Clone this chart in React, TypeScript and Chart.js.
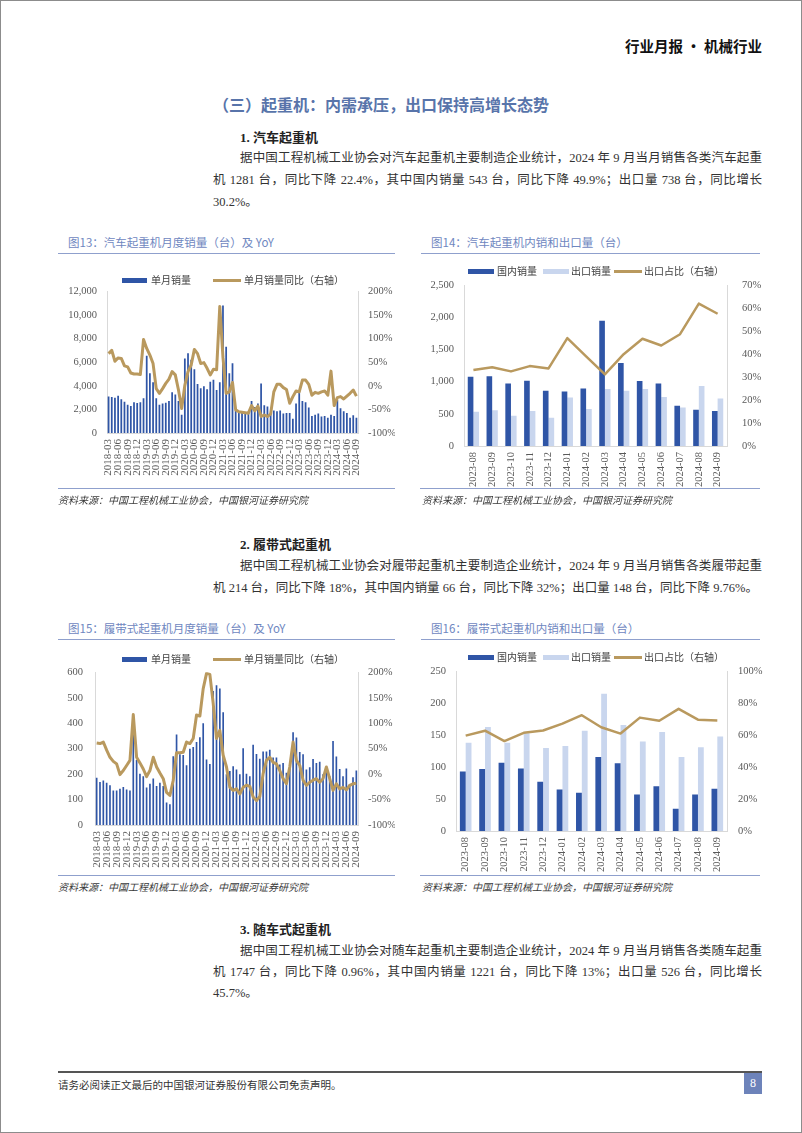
import React, { useEffect, useRef } from "react";
import { Chart, registerables } from "chart.js";

Chart.register(...registerables);

const DARK = "#2F55A6";
const LIGHT = "#C9D6EE";
const GOLD = "#B9995E";
const AXIS = "#D9D9D9";
const TICK = "#595959";
const SERIF = "'Liberation Serif', 'Noto Sans CJK SC', serif";
const BODY = "'Liberation Serif', 'Noto Sans CJK SC', serif";

const monthsLong = [
  "2018-03", "2018-04", "2018-05", "2018-06", "2018-07", "2018-08", "2018-09", "2018-10", "2018-11", "2018-12",
  "2019-01", "2019-02", "2019-03", "2019-04", "2019-05", "2019-06", "2019-07", "2019-08", "2019-09", "2019-10", "2019-11", "2019-12",
  "2020-01", "2020-02", "2020-03", "2020-04", "2020-05", "2020-06", "2020-07", "2020-08", "2020-09", "2020-10", "2020-11", "2020-12",
  "2021-01", "2021-02", "2021-03", "2021-04", "2021-05", "2021-06", "2021-07", "2021-08", "2021-09", "2021-10", "2021-11", "2021-12",
  "2022-01", "2022-02", "2022-03", "2022-04", "2022-05", "2022-06", "2022-07", "2022-08", "2022-09", "2022-10", "2022-11", "2022-12",
  "2023-01", "2023-02", "2023-03", "2023-04", "2023-05", "2023-06", "2023-07", "2023-08", "2023-09", "2023-10", "2023-11", "2023-12",
  "2024-01", "2024-02", "2024-03", "2024-04", "2024-05", "2024-06", "2024-07", "2024-08", "2024-09",
];

const truckSales = [
  3100, 3050, 2980, 3150, 2850, 2650, 2400, 2280, 2600, 2530, 2610, 2950,
  6550, 5050, 4300, 2950, 2400, 2500, 2560, 2720, 3450, 3250, 2700, 1550,
  6300, 6750, 6200, 5400, 4150, 3800, 3950, 3700, 4350, 4500, 3650, 4300,
  10800, 7300, 5050, 5900, 1900, 1850, 1800, 1750, 1700, 2700, 2200, 2500,
  4200, 2350, 2250, 1700, 1900, 1850, 1900, 1650, 1700, 1700, 1200, 2500,
  3600, 2700, 2600, 2150, 1450, 1550, 1650, 1400, 1450, 1300, 1550, 1450,
  2800, 2100, 1850, 1700, 1300, 1500, 1281,
];

const truckYoY = [
  68, 75, 52, 59, 58, 42, 40, 27, 25, 25,
  24, 98, 79, 65, 47, -6, -16, -6, 5, 14,
  30, 23, -9, -48, 1, 30, 44, 77, 68, 47,
  49, 37, 23, 35, 34, 168, 60, -16, -13, 7,
  -51, -55, -56, -57, -58, -42, -53, -43, -65, -62,
  -65, -60, -13, 3, 3, -4, -8, -37, -23, -11,
  -13, 12, 12, 3, -20, -14, -16, -13, -11, -20,
  31, -42, -25, -23, -28, -22, -16, -9, -22,
];

const crawlerSales = [
  186, 169, 175, 166, 156, 136, 136, 142, 149, 139, 136,
  360, 255, 201, 192, 147, 162, 183, 153, 166, 153, 88, 82,
  270, 356, 278, 275, 235, 300, 306, 326, 345, 400, 257, 240,
  527, 549, 536, 443, 199, 212, 231, 218, 199,
  302, 201, 192, 315, 279, 260, 289, 289, 296, 265, 265, 238, 244, 205, 222,
  364, 344, 287, 278, 218, 227, 259, 244, 249, 199, 214, 192,
  330, 269, 220, 192, 222, 160, 188, 214,
];

const crawlerYoY = [
  61, 60, 63, 47, 33, 25, 20, -1, 7, 17,
  27, 117, 33, 22, 10, -5, 7, 33, 14, 2,
  -9, -36, -42, -12, 42, 42, 43, 63, 60, 70,
  116, 114, 168, 198, 196, 139, 70, 86, 37, 14,
  -26, -32, -29, -39, -26, -22, -24, -45, -52, -44,
  1, 27, 33, 23, 20, 7, -9, -19, 14, 63,
  27, 17, -12, -22, -16, -12, -9, -16, -9, 14,
  -9, -32, -19, -29, -26, -31, -22, -19, -18,
];

const monthsShort = [
  "2023-08", "2023-09", "2023-10", "2023-11", "2023-12", "2024-01", "2024-02",
  "2024-03", "2024-04", "2024-05", "2024-06", "2024-07", "2024-08", "2024-09",
];
const truckDomestic = [1078, 1084, 974, 1016, 859, 848, 895, 1950, 1290, 1010, 974, 628, 565, 543];
const truckExport = [534, 555, 471, 545, 440, 754, 576, 885, 859, 885, 764, 597, 932, 738];
const truckShare = [33.1, 34.3, 32.5, 34.8, 33.8, 47.0, 39.0, 31.2, 40.0, 46.7, 43.8, 48.7, 62.0, 57.6];

const crawlerDomestic = [93, 97, 107, 98, 77, 65, 60, 116, 106, 57, 70, 35, 57, 66];
const crawlerExport = [138, 163, 138, 153, 130, 133, 157, 215, 166, 140, 155, 116, 131, 148];
const crawlerShare = [59.7, 62.8, 56.3, 61.5, 62.9, 67.2, 72.5, 65.0, 61.0, 71.0, 69.0, 76.5, 69.7, 69.2];

type Box = { left: number; top: number; w: number; h: number; pl: number; pr: number; pt: number; pb: number };

type Opts = {
  labels: string[];
  datasets: any[];
  box: Box;
  yMin: number; yMax: number; yStep: number;
  rMin: number; rMax: number; rStep: number;
  lPad: number; rPad: number; every: number; xFont: number; yFont: number;
};

const fmtThousands = (v: number) => v.toLocaleString("en-US");

function makeConfig(o: Opts): any {
  const b = o.box;
  return {
    type: "bar",
    data: { labels: o.labels, datasets: o.datasets },
    options: {
      responsive: false,
      maintainAspectRatio: false,
      animation: false,
      devicePixelRatio: 1,
      layout: { padding: { top: b.pt, left: 0, right: 0, bottom: 0 } },
      plugins: { legend: { display: false }, tooltip: { enabled: false } },
      scales: {
        x: {
          grid: { display: false, drawTicks: false },
          border: { display: true, color: AXIS, width: 1 },
          ticks: {
            autoSkip: false,
            minRotation: 90,
            maxRotation: 90,
            padding: 6,
            color: TICK,
            font: { family: SERIF, size: o.xFont },
            callback: (_v: any, i: number) => (i % o.every === 0 ? o.labels[i] : ""),
          },
          afterFit: (s: any) => { s.height = b.h - b.pb; },
        },
        y: {
          position: "left",
          min: o.yMin,
          max: o.yMax,
          grid: { display: false, drawTicks: false },
          border: { display: true, color: AXIS, width: 1 },
          ticks: {
            stepSize: o.yStep,
            padding: o.lPad,
            color: TICK,
            font: { family: SERIF, size: o.yFont },
            callback: (v: any) => fmtThousands(Number(v)),
          },
          afterFit: (s: any) => { s.width = b.pl; },
        },
        y1: {
          position: "right",
          min: o.rMin,
          max: o.rMax,
          grid: { display: false, drawTicks: false },
          border: { display: true, color: AXIS, width: 1 },
          ticks: {
            stepSize: o.rStep,
            padding: o.rPad,
            color: TICK,
            font: { family: SERIF, size: o.yFont },
            callback: (v: any) => `${v}%`,
          },
          afterFit: (s: any) => { s.width = b.w - b.pr; },
        },
      },
    },
  };
}

function ChartCanvas({ opts }: { opts: Opts }) {
  const ref = useRef<HTMLCanvasElement>(null);
  useEffect(() => {
    if (!ref.current) return;
    const chart = new Chart(ref.current, makeConfig(opts));
    return () => chart.destroy();
  }, []);
  const b = opts.box;
  return (
    <canvas
      ref={ref}
      width={b.w}
      height={b.h}
      style={{ position: "absolute", left: b.left, top: b.top, width: b.w, height: b.h }}
    />
  );
}

function Txt(p: {
  x: number; y: number; size: number; children: React.ReactNode;
  bold?: boolean; color?: string; italic?: boolean; family?: string; w?: number; align?: any;
}) {
  const lh = Math.round(p.size * 1.6);
  return (
    <div
      style={{
        position: "absolute",
        left: p.x,
        top: p.y - lh / 2,
        height: lh,
        lineHeight: `${lh}px`,
        fontSize: p.size,
        fontWeight: p.bold ? 700 : 400,
        fontStyle: p.italic ? "italic" : "normal",
        color: p.color || "#333",
        fontFamily: p.family || BODY,
        whiteSpace: "nowrap",
        width: p.w,
        textAlign: p.align || "left",
      }}
    >
      {p.children}
    </div>
  );
}

function JLine(p: { x: number; y: number; w: number; children: React.ReactNode }) {
  const lh = 20;
  return (
    <div
      style={{
        position: "absolute",
        left: p.x,
        top: p.y - lh / 2,
        width: p.w,
        height: lh,
        lineHeight: `${lh}px`,
        fontSize: 12.5,
        color: "#333",
        fontFamily: BODY,
        whiteSpace: "nowrap",
        textAlign: "justify",
        textAlignLast: "justify",
      } as any}
    >
      {p.children}
    </div>
  );
}

function Rect(p: { x: number; y: number; w: number; h: number; c: string }) {
  return <div style={{ position: "absolute", left: p.x, top: p.y, width: p.w, height: p.h, background: p.c }} />;
}

function LegendYoY({ cy }: { cy: number }) {
  return (
    <>
      <Rect x={122} y={cy - 2} w={25} h={5} c={DARK} />
      <Txt x={151} y={cy} size={10} family="'Noto Sans CJK SC'" color="#404040">单月销量</Txt>
      <Rect x={213} y={cy - 1} w={28} h={3} c={GOLD} />
      <Txt x={244} y={cy} size={10} family="'Noto Sans CJK SC'" color="#404040">单月销量同比（右轴）</Txt>
    </>
  );
}

function LegendSplit({ cy }: { cy: number }) {
  return (
    <>
      <Rect x={468} y={cy - 2} w={26} h={5} c={DARK} />
      <Txt x={497} y={cy} size={10} family="'Noto Sans CJK SC'" color="#404040">国内销量</Txt>
      <Rect x={543} y={cy - 2} w={26} h={5} c={LIGHT} />
      <Txt x={571} y={cy} size={10} family="'Noto Sans CJK SC'" color="#404040">出口销量</Txt>
      <Rect x={614} y={cy - 1} w={28} h={3} c={GOLD} />
      <Txt x={644} y={cy} size={10} family="'Noto Sans CJK SC'" color="#404040">出口占比（右轴）</Txt>
    </>
  );
}

const TITLE_C = "#6F87BF";
const RULE_C = "#8FA0CD";
const SRC = "资料来源：中国工程机械工业协会，中国银河证券研究院";

function FigHead({ x, textX, y, w, title }: { x: number; textX: number; y: number; w: number; title: string }) {
  return (
    <>
      <Txt x={textX} y={y} size={11.5} color={TITLE_C} family="'Noto Sans CJK SC'">{title}</Txt>
      <Rect x={x} y={y + 11} w={w} h={1} c={RULE_C} />
    </>
  );
}

function FigSource({ x, textX, y, w }: { x: number; textX: number; y: number; w: number }) {
  return (
    <>
      <Rect x={x} y={y} w={w} h={1} c={RULE_C} />
      <Txt x={textX} y={y + 12} size={10} italic color="#3a3a3a" family="'Noto Sans CJK SC'">{SRC}</Txt>
    </>
  );
}

const c13: Opts = {
  labels: monthsLong,
  datasets: [
    { type: "line", label: "单月销量同比（右轴）", data: truckYoY, yAxisID: "y1", borderColor: GOLD, borderWidth: 3, pointRadius: 0, tension: 0, borderJoinStyle: "round", order: 0 },
    { type: "bar", label: "单月销量", data: truckSales, yAxisID: "y", backgroundColor: DARK, barPercentage: 0.55, categoryPercentage: 1, order: 1 },
  ],
  box: { left: 58, top: 275, w: 337, h: 216, pl: 49, pr: 300, pt: 4, pb: 158 },
  yMin: 0, yMax: 12000, yStep: 2000, rMin: -100, rMax: 200, rStep: 50,
  lPad: 10, rPad: 10, every: 3, xFont: 11, yFont: 10.5,
};

const c14: Opts = {
  labels: monthsShort,
  datasets: [
    { type: "line", label: "出口占比（右轴）", data: truckShare, yAxisID: "y1", borderColor: GOLD, borderWidth: 2.5, pointRadius: 0, tension: 0, borderJoinStyle: "round", order: 0 },
    { type: "bar", label: "国内销量", data: truckDomestic, yAxisID: "y", backgroundColor: DARK, barPercentage: 1, categoryPercentage: 0.6, order: 1 },
    { type: "bar", label: "出口销量", data: truckExport, yAxisID: "y", backgroundColor: LIGHT, barPercentage: 1, categoryPercentage: 0.6, order: 2 },
  ],
  box: { left: 418, top: 264, w: 360, h: 226, pl: 46, pr: 309, pt: 10, pb: 182 },
  yMin: 0, yMax: 2500, yStep: 500, rMin: 0, rMax: 70, rStep: 10,
  lPad: 10, rPad: 15, every: 1, xFont: 10.5, yFont: 10.5,
};

const c15: Opts = {
  labels: monthsLong,
  datasets: [
    { type: "line", label: "单月销量同比（右轴）", data: crawlerYoY, yAxisID: "y1", borderColor: GOLD, borderWidth: 3, pointRadius: 0, tension: 0, borderJoinStyle: "round", order: 0 },
    { type: "bar", label: "单月销量", data: crawlerSales, yAxisID: "y", backgroundColor: DARK, barPercentage: 0.5, categoryPercentage: 1, order: 1 },
  ],
  box: { left: 45, top: 654, w: 350, h: 218, pl: 50, pr: 313, pt: 2, pb: 171 },
  yMin: 0, yMax: 600, yStep: 100, rMin: -100, rMax: 200, rStep: 50,
  lPad: 12, rPad: 10, every: 3, xFont: 11, yFont: 10.5,
};

const c16: Opts = {
  labels: monthsShort,
  datasets: [
    { type: "line", label: "出口占比（右轴）", data: crawlerShare, yAxisID: "y1", borderColor: GOLD, borderWidth: 2.5, pointRadius: 0, tension: 0, borderJoinStyle: "round", order: 0 },
    { type: "bar", label: "国内销量", data: crawlerDomestic, yAxisID: "y", backgroundColor: DARK, barPercentage: 1, categoryPercentage: 0.6, order: 1 },
    { type: "bar", label: "出口销量", data: crawlerExport, yAxisID: "y", backgroundColor: LIGHT, barPercentage: 1, categoryPercentage: 0.6, order: 2 },
  ],
  box: { left: 418, top: 654, w: 360, h: 220, pl: 38, pr: 309, pt: 3, pb: 177 },
  yMin: 0, yMax: 250, yStep: 50, rMin: 0, rMax: 100, rStep: 20,
  lPad: 10, rPad: 11, every: 1, xFont: 10.5, yFont: 10.5,
};

export default function App() {
  return (
    <div
      style={{
        position: "absolute",
        left: 0,
        top: 0,
        width: 802,
        height: 1133,
        background: "#fff",
        overflow: "hidden",
      }}
    >
      <div style={{ position: "absolute", left: 0, top: 0, width: 802, height: 1133, border: "1px solid #8c8c8c", boxSizing: "border-box" }} />

      <Txt x={600} w={162} align="right" y={45} size={14.5} bold color="#111" family="'Noto Sans CJK SC'">行业月报 · 机械行业</Txt>

      <Txt x={213} y={104} size={16} bold color="#5874AA" family="'Noto Sans CJK SC'">（三）起重机：内需承压，出口保持高增长态势</Txt>

      <Txt x={240} y={137} size={13} bold color="#222">1. 汽车起重机</Txt>
      <JLine x={240} y={158} w={522}>据中国工程机械工业协会对汽车起重机主要制造企业统计，2024 年 9 月当月销售各类汽车起重</JLine>
      <JLine x={213} y={180} w={549}>机 1281 台，同比下降 22.4%，其中国内销量 543 台，同比下降 49.9%；出口量 738 台，同比增长</JLine>
      <Txt x={213} y={202} size={12.5}>30.2%。</Txt>

      <FigHead x={58} textX={68} y={242} w={337} title="图13：汽车起重机月度销量（台）及 YoY" />
      <FigHead x={421} textX={431} y={242} w={339} title="图14：汽车起重机内销和出口量（台）" />
      <ChartCanvas opts={c13} />
      <ChartCanvas opts={c14} />
      <LegendYoY cy={280} />
      <LegendSplit cy={271} />
      <FigSource x={58} textX={58} y={488} w={337} />
      <FigSource x={420} textX={422} y={488} w={340} />

      <Txt x={240} y={544} size={13} bold color="#222">2. 履带式起重机</Txt>
      <JLine x={240} y={566} w={522}>据中国工程机械工业协会对履带起重机主要制造企业统计，2024 年 9 月当月销售各类履带起重</JLine>
      <JLine x={213} y={588} w={545}>机 214 台，同比下降 18%，其中国内销量 66 台，同比下降 32%；出口量 148 台，同比下降 9.76%。</JLine>

      <FigHead x={58} textX={68} y={628} w={337} title="图15：履带式起重机月度销量（台）及 YoY" />
      <FigHead x={421} textX={431} y={628} w={339} title="图16：履带式起重机内销和出口量（台）" />
      <ChartCanvas opts={c15} />
      <ChartCanvas opts={c16} />
      <LegendYoY cy={659} />
      <LegendSplit cy={657} />
      <FigSource x={58} textX={58} y={875} w={337} />
      <FigSource x={420} textX={422} y={875} w={340} />

      <Txt x={240} y={929} size={13} bold color="#222">3. 随车式起重机</Txt>
      <JLine x={240} y={951} w={522}>据中国工程机械工业协会对随车起重机主要制造企业统计，2024 年 9 月当月销售各类随车起重</JLine>
      <JLine x={213} y={972} w={549}>机 1747 台，同比下降 0.96%，其中国内销量 1221 台，同比下降 13%；出口量 526 台，同比增长</JLine>
      <Txt x={213} y={993} size={12.5}>45.7%。</Txt>

      <Rect x={58} y={1071} w={704} h={2} c="#555" />
      <Txt x={58} y={1084} size={10.5} color="#333" family="'Noto Sans CJK SC'">请务必阅读正文最后的中国银河证券股份有限公司免责声明。</Txt>
      <div
        style={{
          position: "absolute",
          left: 744,
          top: 1073,
          width: 18,
          height: 21,
          background: "#6D83BA",
          color: "#fff",
          fontSize: 12,
          lineHeight: "21px",
          textAlign: "center",
          fontFamily: SERIF,
        }}
      >
        8
      </div>
    </div>
  );
}
